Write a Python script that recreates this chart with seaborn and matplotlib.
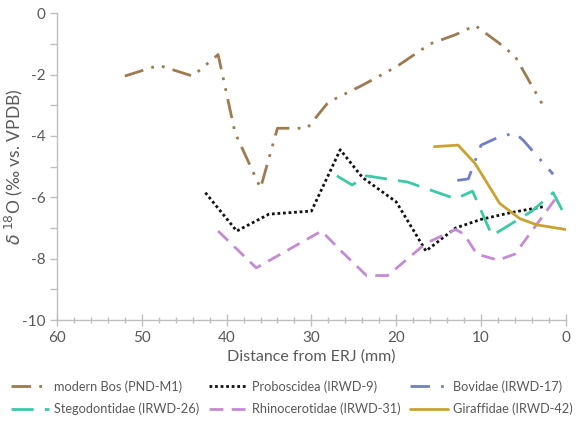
import matplotlib
matplotlib.use("Agg")
import matplotlib.pyplot as plt
from matplotlib.ticker import MultipleLocator
from matplotlib.lines import Line2D
import seaborn as sns
import pandas as pd

# ---- data ----
bos_x = [52, 48, 44, 41, 39, 36, 34, 30.5, 28, 24, 20, 16, 13, 10.7, 8, 6, 2.5]
bos_y = [-2.05, -1.7, -2.05, -1.35, -3.9, -5.7, -3.75, -3.75, -2.9, -2.35, -1.75, -1.0, -0.7, -0.4, -0.95, -1.4, -3.1]

pro_x = [42.5, 38.8, 35, 30, 26.6, 24, 20, 16.5, 13, 10, 6.5, 2.5]
pro_y = [-5.85, -7.1, -6.55, -6.45, -4.45, -5.35, -6.15, -7.75, -7.0, -6.72, -6.5, -6.3]

bov_x = [12.8, 11.5, 10, 8, 6, 5, 1.5]
bov_y = [-5.45, -5.4, -4.3, -4.05, -3.9, -4.15, -5.25]

ste_x = [27, 25.2, 23.5, 20, 18.7, 13, 11, 8.7, 4, 1.5, 0]
ste_y = [-5.3, -5.6, -5.3, -5.45, -5.5, -6.05, -5.8, -7.25, -6.45, -5.85, -6.65]

rhi_x = [41, 36.5, 28.8, 26.5, 23.5, 21, 16.5, 13, 12, 10.5, 8, 6, 0.7]
rhi_y = [-7.1, -8.3, -7.1, -7.75, -8.55, -8.55, -7.5, -7.05, -7.2, -7.85, -8.05, -7.85, -5.85]

gir_x = [15.5, 12.7, 10.7, 7.8, 5.4, 3.4, 0]
gir_y = [-4.35, -4.3, -4.9, -6.2, -6.7, -6.9, -7.05]

names = ["modern Bos (PND-M1)", "Proboscidea (IRWD-9)", "Bovidae (IRWD-17)",
         "Stegodontidae (IRWD-26)", "Rhinocerotidae (IRWD-31)", "Giraffidae (IRWD-42)"]
xs = [bos_x, pro_x, bov_x, ste_x, rhi_x, gir_x]
ys = [bos_y, pro_y, bov_y, ste_y, rhi_y, gir_y]

colors = ["#9c7b50", "#111111", "#7080c4", "#3ccaa6", "#c48ad6", "#c9a232"]
dashes = [(7, 3, 1, 3, 1, 3), (1, 1), (7, 4, 1, 4), (8, 4), (5, 3), None]
widths = [2.0, 2.0, 2.0, 2.0, 2.0, 2.0]

sns.set_theme(style="white")
plt.rcParams['font.family'] = ['Lato', 'DejaVu Sans']
plt.rcParams['axes.unicode_minus'] = False

fig = plt.figure(figsize=(5.87, 4.25), dpi=100)
ax = fig.add_axes([0.097, 0.247, 0.867, 0.722])

handles = []
for n, x, y, c, d, w in zip(names, xs, ys, colors, dashes, widths):
    df = pd.DataFrame({"x": x, "y": y})
    sns.lineplot(data=df, x="x", y="y", ax=ax, color=c, sort=False, linewidth=w, estimator=None)
    ln = ax.lines[-1]
    if d is not None:
        ln.set_dashes(d)
    ln.set_dash_capstyle("butt")
    h = Line2D([], [], color=c, linewidth=w)
    if d is not None:
        h.set_dashes(d)
    handles.append(h)

ax.set_xlim(60, 0)
ax.set_ylim(-10, 0)
ax.xaxis.set_major_locator(MultipleLocator(10))
ax.xaxis.set_minor_locator(MultipleLocator(2))
ax.yaxis.set_major_locator(MultipleLocator(2))
ax.yaxis.set_minor_locator(MultipleLocator(1))

gray = "#bfbfbf"
for s in ["top", "right"]:
    ax.spines[s].set_visible(False)
for s in ["left", "bottom"]:
    ax.spines[s].set_color(gray)
    ax.spines[s].set_linewidth(1.0)

ax.tick_params(axis="x", which="major", direction="inout", length=8, color=gray, width=1,
               labelsize=11, labelcolor="#595959", bottom=True, pad=4)
ax.tick_params(axis="x", which="minor", direction="inout", length=5, color=gray, width=1, bottom=True)
ax.tick_params(axis="y", which="major", direction="out", length=5, color=gray, width=1,
               labelsize=11, labelcolor="#595959", left=True, pad=3)
ax.tick_params(axis="y", which="minor", direction="out", length=5, color=gray, width=1, left=True)

ax.set_xlabel("Distance from ERJ (mm)", fontsize=11.5, color="#595959", labelpad=3)
ax.set_ylabel(r"$\delta$ $^{18}$O (‰ vs. VPDB)", fontsize=12.5, color="#595959")
ax.yaxis.set_label_coords(-0.063, 0.5)

# matplotlib fills legend column-wise; reorder so rows read like the reference
order = [0, 3, 1, 4, 2, 5]
fig.legend([handles[i] for i in order], [names[i] for i in order],
           loc="upper left", bbox_to_anchor=(0.01, 0.118), ncol=3,
           frameon=False, fontsize=9.2, handlelength=3.0, handletextpad=0.4,
           columnspacing=0.7, labelcolor="#595959", borderaxespad=0, labelspacing=0.8)

fig.savefig("out.png", dpi=100)
